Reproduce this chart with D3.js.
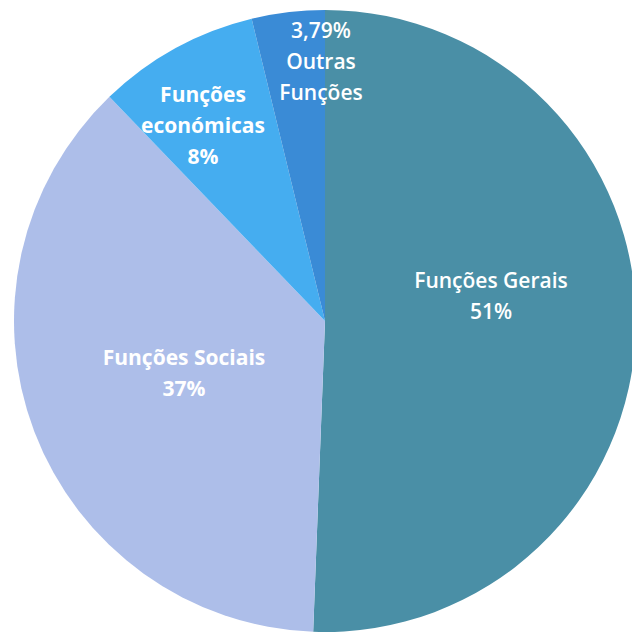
<!DOCTYPE html>
<html>
<head>
<meta charset="utf-8">
<script src="https://cdn.jsdelivr.net/npm/d3@7"></script>
<style>
  html, body { margin: 0; padding: 0; background: #fff; }
  svg { display: block; }
  .lbl { font-family: "Open Sans", "Noto Sans", sans-serif; fill: #fff; }
</style>
</head>
<body>
<div id="chart"></div>
<script>
// slice data, clockwise from 12 o'clock
const categories = ['Funções Gerais', 'Funções Sociais', 'Funções económicas', 'Outras Funções'];
const values = [50.6, 37.2, 8.4, 3.79];
const colors = ['#4a8fa6', '#adbee9', '#45adf0', '#3a8bd6'];

// text shown inside each slice (lines)
const labelLines = [
  ['Funções Gerais', '51%'],
  ['Funções Sociais', '37%'],
  ['Funções', 'económicas', '8%'],
  ['3,79%', 'Outras', 'Funções']
];
// label block centers, offset from the pie center
const labelPos = [
  [166, -25],
  [-141, 52],
  [-122, -195],
  [-4, -259]
];

const width = 632;
const height = 637;
const cx = 325, cy = 321, radius = 311;

const svg = d3.select('#chart')
  .append('svg')
  .attr('width', width)
  .attr('height', height);

const g = svg.append('g').attr('transform', `translate(${cx},${cy})`);

const pie = d3.pie().sort(null).value((d) => d);
const arcs = pie(values);
const arc = d3.arc().innerRadius(0).outerRadius(radius);

g.selectAll('path')
  .data(arcs)
  .join('path')
  .attr('d', arc)
  .attr('fill', (d, i) => colors[i]);

const lineH = 31;
const labels = g.selectAll('text.lbl')
  .data(labelLines)
  .join('text')
  .attr('class', 'lbl')
  .attr('font-size', 21)
  .attr('font-weight', (d, i) => (i === 0 || i === 3) ? 600 : 700)
  .attr('text-anchor', 'middle')
  .attr('transform', (d, i) => `translate(${labelPos[i][0]},${labelPos[i][1]})`);

labels.each(function (lines) {
  const t = d3.select(this);
  const off = -(lines.length - 1) / 2 * lineH;
  lines.forEach((s, k) => {
    t.append('tspan')
      .attr('x', 0)
      .attr('y', off + k * lineH)
      .attr('dy', '0.35em')
      .text(s);
  });
});
</script>
</body>
</html>
